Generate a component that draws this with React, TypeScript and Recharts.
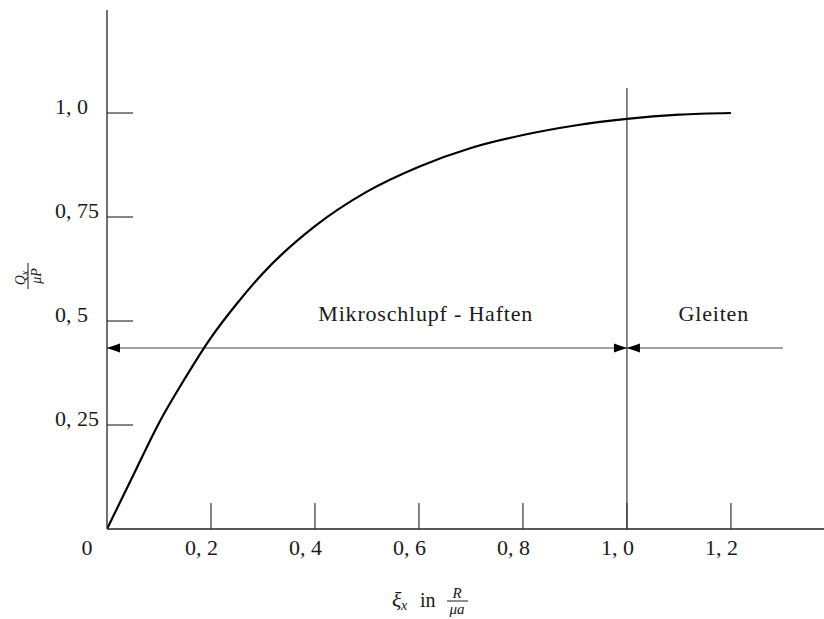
import { LineChart, Line, XAxis, YAxis, ReferenceLine, ReferenceDot } from "recharts";

// Kraftschlusskurve: Q_x / (mu P) über dem Schlupf xi_x
const xiValues = [0, 0.05, 0.1, 0.15, 0.2, 0.25, 0.3, 0.4, 0.5, 0.6, 0.7, 0.8, 0.9, 1.0, 1.1, 1.2];
const qValues = [0, 0.128, 0.255, 0.362, 0.46, 0.542, 0.615, 0.728, 0.811, 0.871, 0.916, 0.947, 0.97, 0.986, 0.996, 1.0];

const xTicks = [0, 0.2, 0.4, 0.6, 0.8, 1.0, 1.2];
const yTicks = [0.25, 0.5, 0.75, 1.0];
const xTickLabels = ["0", "0, 2", "0, 4", "0, 6", "0, 8", "1, 0", "1, 2"];
const yTickLabels = ["0, 25", "0, 5", "0, 75", "1, 0"];

const arrowLevel = 0.435;
const boundaryXi = 1.0;
const boundaryTop = 1.06;
const glideEnd = 1.3;
const regionLabels = ["Mikroschlupf - Haften", "Gleiten"];
const regionCenters = [0.613, 1.167];

const data = xiValues.map((xi, i) => ({ xi, q: qValues[i] }));

const FONT = "'Liberation Serif', 'Times New Roman', serif";
const INK = "#1a1a1a";

const XTick = (props: any) => {
  const { x, y, payload } = props;
  const i = xTicks.indexOf(payload.value);
  if (payload.value === 0) {
    return (
      <text x={x - 20} y={y + 26} textAnchor="middle" fontFamily={FONT} fontSize={22} fill={INK}>
        0
      </text>
    );
  }
  return (
    <g>
      <line x1={x} x2={x} y1={y} y2={y - 26} stroke="#333" strokeWidth={1.2} />
      <text x={x + 7} y={y + 26} textAnchor="end" fontFamily={FONT} fontSize={22} fill={INK}>
        {xTickLabels[i]}
      </text>
    </g>
  );
};

const YTick = (props: any) => {
  const { x, y, payload } = props;
  const i = yTicks.indexOf(payload.value);
  return (
    <g>
      <line x1={x} x2={x + 26} y1={y} y2={y} stroke="#333" strokeWidth={1.2} />
      <text x={x - 52} y={y + 1} textAnchor="start" fontFamily={FONT} fontSize={22} fill={INK}>
        {yTickLabels[i]}
      </text>
    </g>
  );
};

const XTitle = (props: any) => {
  const vb = props.viewBox || { x: 107, y: 529 };
  const bx = vb.x + 285;
  const by = vb.y + 78;
  return (
    <g fontFamily={FONT} fill={INK}>
      <text x={bx} y={by} fontSize={22} fontStyle="italic">ξ</text>
      <text x={bx + 9} y={by + 3} fontSize={14} fontStyle="italic">x</text>
      <text x={bx + 28} y={by} fontSize={20}>in</text>
      <text x={bx + 65} y={by - 9} fontSize={15} fontStyle="italic" textAnchor="middle">R</text>
      <line x1={bx + 55} x2={bx + 76} y1={by - 6} y2={by - 6} stroke={INK} strokeWidth={1} />
      <text x={bx + 65} y={by + 7} fontSize={15} fontStyle="italic" textAnchor="middle">μa</text>
    </g>
  );
};

const YTitle = () => (
  <g transform="translate(28,276) rotate(-90)" fontFamily={FONT} fill={INK}>
    <text x={-2} y={-3} fontSize={14} fontStyle="italic" textAnchor="middle">
      Q<tspan fontSize={10} dy={3}>x</tspan>
    </text>
    <line x1={-13} x2={13} y1={0} y2={0} stroke={INK} strokeWidth={1} />
    <text x={0} y={13} fontSize={14} fontStyle="italic" textAnchor="middle">μP</text>
  </g>
);

const arrowHead = (dir: number) => (props: any) => {
  const { cx, cy } = props;
  const len = 13;
  const half = 4.5;
  return (
    <path
      d={`M${cx},${cy} L${cx - dir * len},${cy - half} L${cx - dir * len},${cy + half} Z`}
      fill="#000"
    />
  );
};

const regionText = (label: string) => (props: any) => {
  const { cx, cy } = props;
  return (
    <text x={cx} y={cy} textAnchor="middle" fontFamily={FONT} fontSize={22} letterSpacing={0.8} fill={INK}>
      {label}
    </text>
  );
};

export default function App() {
  return (
    <div style={{ position: "absolute", left: 0, top: 0, background: "#fff" }}>
      <LineChart width={824} height={619} data={data} margin={{ top: 10, right: 0, bottom: 0, left: 0 }}>
        <XAxis
          dataKey="xi"
          type="number"
          domain={[0, 1.379]}
          ticks={xTicks}
          tick={<XTick />}
          tickSize={0}
          tickMargin={0}
          tickLine={false}
          height={90}
          axisLine={{ stroke: "#222", strokeWidth: 1.6 }}
          allowDataOverflow
          label={<XTitle />}
        />
        <YAxis
          type="number"
          domain={[0, 1.2476]}
          ticks={yTicks}
          tick={<YTick />}
          tickSize={0}
          tickMargin={0}
          tickLine={false}
          width={107}
          axisLine={{ stroke: "#333", strokeWidth: 1.4 }}
          allowDataOverflow
          label={<YTitle />}
        />
        <ReferenceLine
          segment={[{ x: boundaryXi, y: 0 }, { x: boundaryXi, y: boundaryTop }]}
          stroke="#222"
          strokeWidth={1.1}
        />
        <ReferenceLine
          segment={[{ x: 0, y: arrowLevel }, { x: glideEnd, y: arrowLevel }]}
          stroke="#444"
          strokeWidth={1.1}
        />
        <ReferenceDot x={0} y={arrowLevel} r={0} shape={arrowHead(-1)} ifOverflow="visible" />
        <ReferenceDot x={boundaryXi} y={arrowLevel} r={0} shape={arrowHead(1)} ifOverflow="visible" />
        <ReferenceDot x={boundaryXi} y={arrowLevel} r={0} shape={arrowHead(-1)} ifOverflow="visible" />
        <ReferenceDot x={regionCenters[0]} y={0.5} r={0} shape={regionText(regionLabels[0])} ifOverflow="visible" />
        <ReferenceDot x={regionCenters[1]} y={0.5} r={0} shape={regionText(regionLabels[1])} ifOverflow="visible" />
        <Line
          dataKey="q"
          type="monotone"
          stroke="#000"
          strokeWidth={2.2}
          dot={false}
          isAnimationActive={false}
        />
      </LineChart>
    </div>
  );
}
